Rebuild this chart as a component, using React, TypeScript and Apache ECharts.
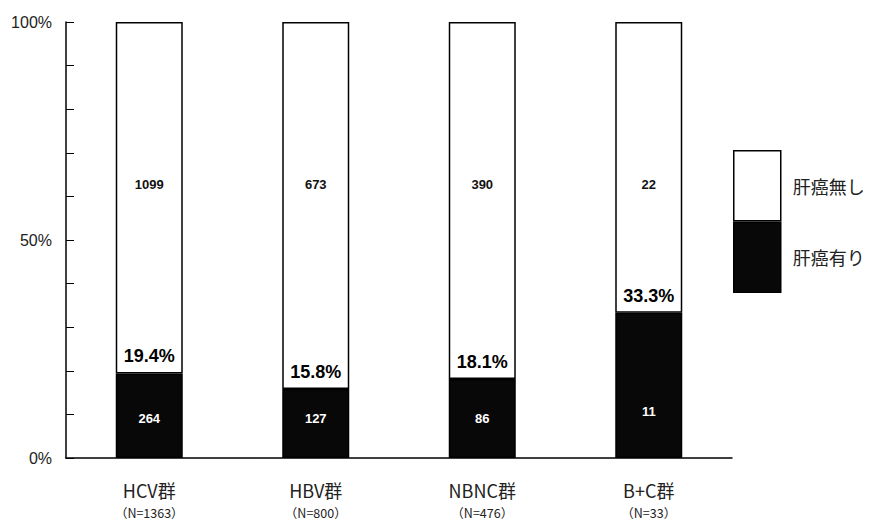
import React, { useEffect, useRef } from "react";
import * as echarts from "echarts";

const groups = ["HCV群", "HBV群", "NBNC群", "B+C群"];
const totals = [1363, 800, 476, 33];
const withCancer = [264, 127, 86, 11];
const withoutCancer = [1099, 673, 390, 22];
const cancerPct = [19.4, 15.8, 18.1, 33.3];
const yTickLabels = [0, 50, 100];

const FONT = "'Liberation Sans', Arial, 'Noto Sans CJK JP', sans-serif";
const CJK = "'Noto Sans CJK JP', 'Liberation Sans', sans-serif";

export default function App() {
  const ref = useRef<HTMLDivElement>(null);

  useEffect(() => {
    document.body.style.margin = "0";
    const chart = echarts.init(ref.current!, null, { renderer: "svg" });
    const option = {
      animation: false,
      backgroundColor: "#fff",
      textStyle: { fontFamily: FONT },
      grid: { left: 66, right: 147, top: 22, bottom: 62 },
      legend: {
        orient: "vertical",
        left: 728,
        top: 145,
        itemWidth: 47,
        itemHeight: 70,
        itemGap: 0,
        icon: "rect",
        data: ["肝癌無し", "肝癌有り"],
        itemStyle: { borderColor: "#000", borderWidth: 1.5 },
        textStyle: { fontSize: 18, color: "#222", padding: [0, 0, 0, 7], fontFamily: CJK },
        selectedMode: false,
      },
      xAxis: {
        type: "category",
        data: groups,
        boundaryGap: true,
        axisLine: { lineStyle: { color: "#000", width: 1.5 } },
        axisTick: { inside: true, length: 5, interval: 0, lineStyle: { color: "#000" } },
        axisLabel: {
          interval: 0,
          margin: 18,
          formatter: (v: string, i: number) => `{name|${v}}\n{n|（N=${totals[i]}）}`,
          rich: {
            name: { fontSize: 18, lineHeight: 27, color: "#222", fontFamily: CJK },
            n: { fontSize: 12.5, lineHeight: 18, color: "#222", fontFamily: CJK },
          },
        },
      },
      yAxis: {
        type: "value",
        min: 0,
        max: 100,
        interval: 10,
        splitLine: { show: false },
        axisLine: { show: true, lineStyle: { color: "#000", width: 1.5 } },
        axisTick: { show: true, inside: true, length: 8, lineStyle: { color: "#000" } },
        axisLabel: {
          margin: 14,
          fontSize: 16,
          color: "#222",
          formatter: (v: number) => (yTickLabels.includes(v) ? `${v}%` : ""),
        },
      },
      series: [
        {
          name: "肝癌有り",
          type: "bar",
          stack: "all",
          barWidth: 67,
          itemStyle: { color: "#080808", borderColor: "#000", borderWidth: 1.5 },
          label: {
            show: true,
            position: "insideBottom",
            distance: 33,
            color: "#fff",
            fontWeight: "bold",
            fontSize: 13,
            formatter: (p: any) => String(withCancer[p.dataIndex]),
          },
          data: cancerPct.map((v, i) =>
            i === 3 ? { value: v, label: { distance: 40 } } : v
          ),
        },
        {
          name: "肝癌無し",
          type: "bar",
          stack: "all",
          barWidth: 67,
          itemStyle: { color: "#fff", borderColor: "#000", borderWidth: 1.5 },
          label: {
            show: true,
            position: "insideTop",
            distance: 156,
            color: "#111",
            fontWeight: "bold",
            fontSize: 13,
            formatter: (p: any) => String(withoutCancer[p.dataIndex]),
          },
          data: cancerPct.map((v) => +(100 - v).toFixed(1)),
        },
        {
          name: "割合",
          type: "scatter",
          symbolSize: 0,
          silent: true,
          itemStyle: { opacity: 1 },
          label: {
            show: true,
            position: "top",
            distance: 8,
            color: "#000",
            opacity: 1,
            fontWeight: "bold",
            fontSize: 18,
            formatter: (p: any) => `${cancerPct[p.dataIndex].toFixed(1)}%`,
          },
          data: cancerPct,
          z: 5,
        },
      ],
    };
    chart.setOption(option);
    return () => chart.dispose();
  }, []);

  return <div ref={ref} style={{ width: 879, height: 520 }} />;
}
